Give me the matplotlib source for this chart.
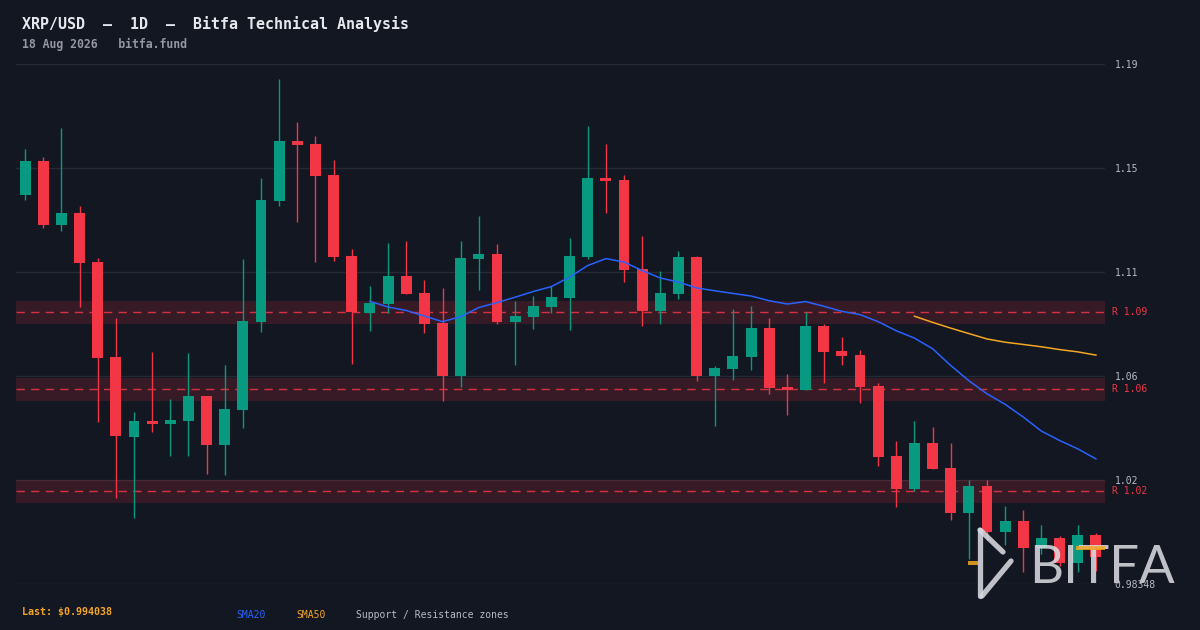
import numpy as np
import pandas as pd
import matplotlib
matplotlib.use("Agg")
import matplotlib.pyplot as plt
import matplotlib.transforms as mtransforms
from matplotlib.lines import Line2D
from matplotlib.patches import Rectangle

# daily candles (oldest first)
opens = [1.1354, 1.1486, 1.1236, 1.1283, 1.1092, 1.0721, 1.0409, 1.0471, 1.0459, 1.0471,
         1.0569, 1.0378, 1.0514, 1.0858, 1.1330, 1.1564, 1.1553, 1.1432, 1.1115, 1.0893,
         1.0928, 1.1037, 1.0971, 1.0854, 1.0647, 1.1104, 1.1123, 1.0858, 1.0877, 1.0916,
         1.0951, 1.1111, 1.1420, 1.1412, 1.1065, 1.0901, 1.0967, 1.1111, 1.0647, 1.0674,
         1.0721, 1.0834, 1.0604, 1.0592, 1.0842, 1.0744, 1.0729, 1.0608, 1.0335, 1.0206,
         1.0385, 1.0288, 1.0112, 1.0217, 1.0038, 1.0081, 0.9975, 1.0014, 0.9917, 1.0026]
highs = [1.1533, 1.1502, 1.1615, 1.1310, 1.1108, 1.0873, 1.0506, 1.0741, 1.0557, 1.0737,
         1.0569, 1.0690, 1.1104, 1.1420, 1.1806, 1.1638, 1.1584, 1.1490, 1.1143, 1.0998,
         1.1166, 1.1174, 1.1022, 1.0990, 1.1174, 1.1271, 1.1162, 1.0940, 1.0959, 1.0998,
         1.1186, 1.1623, 1.1553, 1.1432, 1.1193, 1.1057, 1.1135, 1.1115, 1.0686, 1.0908,
         1.0920, 1.0873, 1.0655, 1.0897, 1.0850, 1.0799, 1.0748, 1.0620, 1.0393, 1.0471,
         1.0448, 1.0385, 1.0241, 1.0241, 1.0139, 1.0124, 1.0065, 1.0022, 1.0065, 1.0034]
lows = [1.1334, 1.1225, 1.1213, 1.0916, 1.0467, 1.0171, 1.0092, 1.0428, 1.0335, 1.0335,
        1.0264, 1.0260, 1.0444, 1.0819, 1.1310, 1.1248, 1.1092, 1.1096, 1.0694, 1.0823,
        1.0893, 1.0967, 1.0815, 1.0549, 1.0604, 1.0983, 1.0850, 1.0690, 1.0830, 1.0893,
        1.0826, 1.1104, 1.1283, 1.1014, 1.0842, 1.0850, 1.0947, 1.0627, 1.0452, 1.0631,
        1.0670, 1.0577, 1.0495, 1.0592, 1.0620, 1.0690, 1.0541, 1.0295, 1.0135, 1.0198,
        1.0284, 1.0085, 0.9932, 1.0007, 0.9987, 0.9882, 0.9950, 0.9905, 0.9882, 0.9886]
closes = [1.1486, 1.1236, 1.1283, 1.1088, 1.0717, 1.0413, 1.0471, 1.0459, 1.0475, 1.0569,
          1.0378, 1.0518, 1.0862, 1.1334, 1.1564, 1.1549, 1.1428, 1.1111, 1.0897, 1.0932,
          1.1037, 1.0967, 1.0850, 1.0647, 1.1108, 1.1123, 1.0858, 1.0881, 1.0920, 1.0955,
          1.1115, 1.1420, 1.1408, 1.1061, 1.0901, 1.0971, 1.1111, 1.0647, 1.0678, 1.0725,
          1.0834, 1.0600, 1.0592, 1.0842, 1.0741, 1.0725, 1.0604, 1.0331, 1.0206, 1.0385,
          1.0284, 1.0112, 1.0217, 1.0038, 1.0081, 0.9975, 1.0014, 0.9917, 1.0026, 0.994038]

# resistance levels (dashed) and their zone half-width
levels = [1.0896, 1.0595, 1.0197]
zone_half = 0.0045

y_min, y_max = 0.98348, 1.18648

BG = "#131722"
GREEN = "#089981"
RED = "#f23645"
BLUE = "#2962ff"
ORANGE = "#f5a524"
GRID = "#262a35"
TXT = "#b8bbc4"
MONO = "DejaVu Sans Mono"

df = pd.DataFrame({"o": opens, "h": highs, "l": lows, "c": closes})
df["sma20"] = df["c"].rolling(20).mean()
df["sma50"] = df["c"].rolling(50).mean()
x = np.arange(len(df))
up = df["c"] >= df["o"]
cols = np.where(up, GREEN, RED)

fig = plt.figure(figsize=(12, 6.3), dpi=100, facecolor=BG)
ax = fig.add_axes([16 / 1200, 46 / 630, 1089 / 1200, 520 / 630])
ax.set_facecolor(BG)

ticks = np.linspace(y_min, y_max, 6)
# grid drawn by hand so it stays under the candles
for t in ticks:
    ax.axhline(t, color=GRID, lw=1, zorder=0.5)

# zones + dashed levels
for lv in levels:
    ax.axhspan(lv - zone_half, lv + zone_half, color=RED, alpha=0.16, lw=0, zorder=1)
    ax.axhline(lv, color=RED, lw=1, ls=(0, (6, 4.5)), alpha=0.85, zorder=2)

# candles
ax.vlines(x, df["l"], df["h"], colors=cols, lw=1.0, zorder=3)
body_lo = np.minimum(df["o"], df["c"])
body_h = np.maximum(np.abs(df["c"] - df["o"]), 0.0009)
ax.bar(x, body_h, bottom=body_lo, width=0.6, color=cols, lw=0, zorder=4)

# moving averages
ax.plot(x, df["sma20"], color=BLUE, lw=1.1, zorder=5)
ax.plot(x, df["sma50"], color=ORANGE, lw=1.1, zorder=5)

ax.set_xlim(-0.5, len(df) - 0.5)
ax.set_ylim(y_min, y_max)
ax.set_yticks(ticks)
ax.set_yticklabels([f"{ticks[0]:.5f}"] + [f"{t:.2f}" for t in ticks[1:]])
ax.yaxis.tick_right()
ax.tick_params(axis="y", length=0, pad=7, labelsize=7, labelcolor=TXT)
for lab in ax.get_yticklabels():
    lab.set_family(MONO)
ax.set_xticks([])
ax.yaxis.set_zorder(20)  # price labels sit on top of the watermark
for s in ax.spines.values():
    s.set_visible(False)

trans = mtransforms.blended_transform_factory(ax.transAxes, ax.transData)
for lv in levels:
    ax.text(1 + 7 / 1089, lv, f"R {lv:.2f}", transform=trans, color=RED,
            fontsize=7, family=MONO, va="center", ha="left", clip_on=False)

# header
fig.text(22 / 1200, 1 - 24 / 630, "XRP/USD  \u2013  1D  \u2013  Bitfa Technical Analysis",
         color="#e6e8ee", fontsize=10.8, family=MONO, weight="bold", va="center")
fig.text(22 / 1200, 1 - 44 / 630, "18 Aug 2026   bitfa.fund",
         color="#9598a1", fontsize=8.3, family=MONO, weight="bold", va="center")

# footer
fig.text(22 / 1200, 1 - 612 / 630, f"Last: ${closes[-1]:.6f}", color=ORANGE,
         fontsize=7.2, family=MONO, weight="bold", va="center")
fig.text(236 / 1200, 1 - 615 / 630, "SMA20", color=BLUE, fontsize=7, family=MONO, va="center")
fig.text(296 / 1200, 1 - 615 / 630, "SMA50", color=ORANGE, fontsize=7, family=MONO, va="center")
fig.text(356 / 1200, 1 - 615 / 630, "Support / Resistance zones", color=TXT,
         fontsize=7, family=MONO, va="center")

# watermark logo (figure pixel coords), drawn inside the axes so labels stay on top
def px(xp, yp):
    return xp / 1200, 1 - yp / 630

LOGO = "#d9dadf"
ft = fig.transFigure
icon = [[(980, 530), (980, 596)], [(980, 530), (1003, 552)], [(1011, 561), (982, 596)]]
for seg in icon:
    (x0, y0), (x1, y1) = px(*seg[0]), px(*seg[1])
    ax.add_artist(Line2D([x0, x1], [y0, y1], color=LOGO, lw=3.8, alpha=0.88,
                         solid_capstyle="round", transform=ft, zorder=10, clip_on=False))
ax.add_artist(Rectangle(px(968, 565), 10 / 1200, 4 / 630, color=ORANGE, alpha=0.85,
                        lw=0, transform=ft, zorder=10, clip_on=False))
ax.text(1029 / 1200, 1 - 583 / 630, "BITFA", color=LOGO, alpha=0.88, fontsize=38,
        family="Lato", va="baseline", ha="left", transform=ft, zorder=10, clip_on=False)
ax.add_artist(Rectangle(px(1076, 550), 29 / 1200, 4 / 630, color=ORANGE, alpha=0.85,
                        lw=0, transform=ft, zorder=11, clip_on=False))

fig.savefig("out.png", dpi=100, facecolor=BG)
